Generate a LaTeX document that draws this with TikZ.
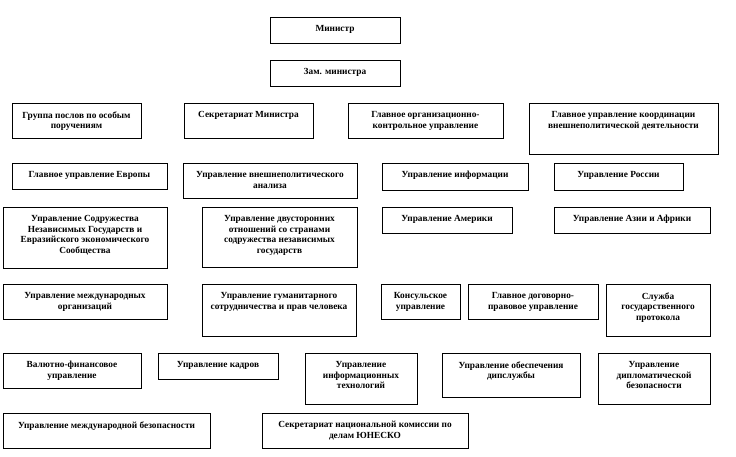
\documentclass[tikz,border=0pt]{standalone}
\usepackage{fontspec}
\setmainfont{Liberation Serif}
\usetikzlibrary{fit, shadows}

\tikzset{
	unit/.style={draw, thin, fill=white, rectangle, inner sep=0pt, drop shadow={shadow xshift=0.7pt, shadow yshift=-0.7pt, fill=black!55, opacity=1}},
	caption/.style={anchor=north, align=center, inner xsep=2pt, inner ysep=6.3pt, font=\fontsize{7}{8}\selectfont\bfseries}
}

\begin{document}
\begin{tikzpicture}[x=0.75pt, y=-0.75pt]
	\useasboundingbox (0,0) rectangle (736,457);
	
	% Leadership
	\node[unit, fit={(270,17) (400,43)}] (minister) {};
	\node[caption] (minister-t) at (minister.north) {Министр};
	
	\node[unit, fit={(270,60) (400,86)}] (deputy) {};
	\node[caption] (deputy-t) at (deputy.north) {Зам. министра};
	
	% Row 1
	\node[unit, fit={(12,103) (141,138)}] (envoys) {};
	\node[caption] (envoys-t) at (envoys.north) {Группа послов по особым\\поручениям};
	
	\node[unit, fit={(184,103) (313,138)}] (secretariat) {};
	\node[caption] (secretariat-t) at (secretariat.north) {Секретариат Министра};
	
	\node[unit, fit={(348,103) (503,138)}] (control) {};
	\node[caption] (control-t) at (control.north) {Главное организационно-\\контрольное управление};
	
	\node[unit, fit={(529,103) (718,154)}] (coordination) {};
	\node[caption] (coordination-t) at (coordination.north) {Главное управление координации\\внешнеполитической деятельности};
	
	% Row 2
	\node[unit, fit={(12,163) (167,189)}] (europe) {};
	\node[caption] (europe-t) at (europe.north) {Главное управление Европы};
	
	\node[unit, fit={(183,163) (357,198)}] (analysis) {};
	\node[caption] (analysis-t) at (analysis.north) {Управление внешнеполитического\\анализа};
	
	\node[unit, fit={(382,163) (528,190)}] (information) {};
	\node[caption] (information-t) at (information.north) {Управление информации};
	
	\node[unit, fit={(554,163) (683,190)}] (russia) {};
	\node[caption] (russia-t) at (russia.north) {Управление России};
	
	% Row 3
	\node[unit, fit={(3,207) (167,268)}] (cis) {};
	\node[caption] (cis-t) at (cis.north) {Управление Содружества\\Независимых Государств и\\Евразийского экономического\\Сообщества};
	
	\node[unit, fit={(202,207) (357,267)}] (bilateral) {};
	\node[caption] (bilateral-t) at (bilateral.north) {Управление двусторонних\\отношений со странами\\содружества независимых\\государств};
	
	\node[unit, fit={(382,207) (512,233)}] (america) {};
	\node[caption] (america-t) at (america.north) {Управление Америки};
	
	\node[unit, fit={(554,207) (710,233)}] (asiaafrica) {};
	\node[caption] (asiaafrica-t) at (asiaafrica.north) {Управление Азии и Африки};
	
	% Row 4
	\node[unit, fit={(3,284) (167,319)}] (intorg) {};
	\node[caption] (intorg-t) at (intorg.north) {Управление международных\\организаций};
	
	\node[unit, fit={(202,284) (356,336)}] (humanitarian) {};
	\node[caption] (humanitarian-t) at (humanitarian.north) {Управление гуманитарного\\сотрудничества и прав человека};
	
	\node[unit, fit={(381,284) (460,319)}] (consular) {};
	\node[caption] (consular-t) at (consular.north) {Консульское\\управление};
	
	\node[unit, fit={(468,284) (598,319)}] (legal) {};
	\node[caption] (legal-t) at (legal.north) {Главное договорно-\\правовое управление};
	
	\node[unit, fit={(606,284) (710,336)}] (protocol) {};
	\node[caption] (protocol-t) at (protocol.north) {Служба\\государственного\\протокола};
	
	% Row 5
	\node[unit, fit={(3,353) (141,388)}] (finance) {};
	\node[caption] (finance-t) at (finance.north) {Валютно-финансовое\\управление};
	
	\node[unit, fit={(158,353) (278,379)}] (personnel) {};
	\node[caption] (personnel-t) at (personnel.north) {Управление кадров};
	
	\node[unit, fit={(305,353) (417,404)}] (itech) {};
	\node[caption] (itech-t) at (itech.north) {Управление\\информационных\\технологий};
	
	\node[unit, fit={(442,353) (580,397)}] (support) {};
	\node[caption] (support-t) at (support.north) {Управление обеспечения\\дипслужбы};
	
	\node[unit, fit={(598,353) (710,404)}] (diplsec) {};
	\node[caption] (diplsec-t) at (diplsec.north) {Управление\\дипломатической\\безопасности};
	
	% Row 6
	\node[unit, fit={(3,413) (210,448)}] (intsec) {};
	\node[caption] (intsec-t) at (intsec.north) {Управление международной безопасности};
	
	\node[unit, fit={(262,413) (468,448)}] (unesco) {};
	\node[caption] (unesco-t) at (unesco.north) {Секретариат национальной комиссии по\\делам ЮНЕСКО};
\end{tikzpicture}
\end{document}
